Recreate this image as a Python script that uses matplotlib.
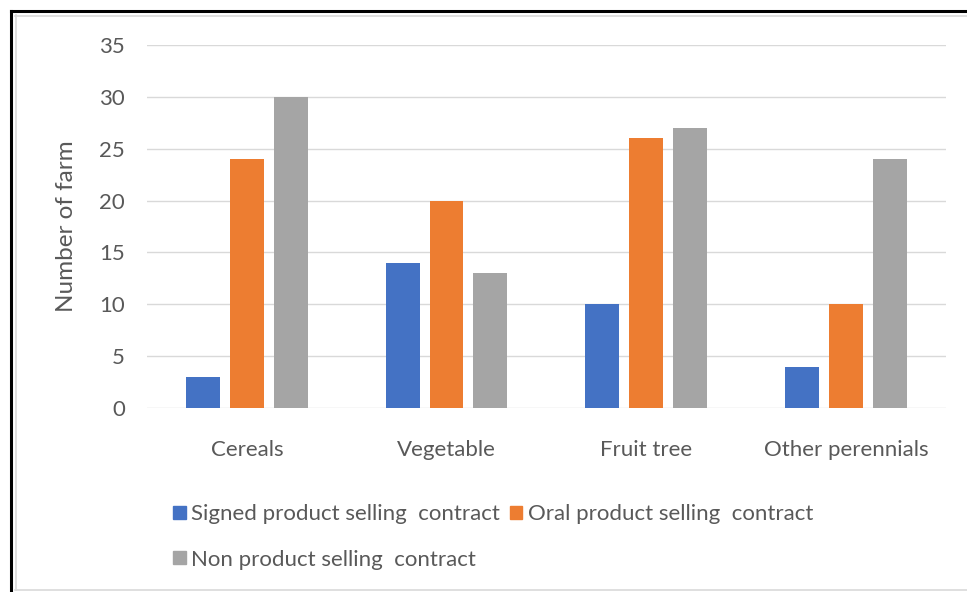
import matplotlib
matplotlib.use('Agg')
import matplotlib.pyplot as plt
from matplotlib.lines import Line2D
from matplotlib.patches import Patch
import numpy as np

plt.rcParams['font.family'] = ['Lato', 'DejaVu Sans']

categories = ['Cereals', 'Vegetable', 'Fruit tree', 'Other perennials']
signed = [3, 14, 10, 4]
oral = [24, 20, 26, 10]
non = [30, 13, 27, 24]
series_names = ['Signed product selling  contract', 'Oral product selling  contract',
                'Non product selling  contract']
colors = ['#4472C4', '#ED7D31', '#A5A5A5']
text_color = '#595959'

fig = plt.figure(figsize=(9.67, 5.92), dpi=100)
ax = fig.add_axes([0.152, 0.3108, 0.826, 0.6132])

x = np.arange(len(categories))
w = 0.17
step = 0.22
for i, vals in enumerate([signed, oral, non]):
    ax.bar(x + (i - 1) * step, vals, width=w, color=colors[i], zorder=3)

ax.set_xlim(-0.5, len(categories) - 0.5)
ax.set_ylim(0, 35)
ax.set_yticks(range(0, 36, 5))
ax.set_xticks(x)
ax.set_xticklabels(categories)
ax.grid(axis='y', color='#d9d9d9', linewidth=1, zorder=0)
for s in ax.spines.values():
    s.set_visible(False)
ax.tick_params(axis='both', length=0, labelsize=16, labelcolor=text_color)
ax.tick_params(axis='y', pad=16)
ax.tick_params(axis='x', pad=23)
ax.set_ylabel('Number of farm', fontsize=17.5, color=text_color, labelpad=16)

handles = [Patch(color=colors[0]), Patch(color=colors[2]), Patch(color=colors[1])]
labels = [series_names[0], series_names[2], series_names[1]]
fig.legend(handles, labels, ncol=2, loc='upper left', bbox_to_anchor=(0.170, 0.163),
           frameon=False, fontsize=16, labelcolor=text_color,
           handlelength=0.55, handleheight=0.55, handletextpad=0.25,
           columnspacing=0.45, labelspacing=1.13, borderaxespad=0)

# outer frame
def fx(px):
    return px / 967
def fy(py):
    return 1 - py / 592

fig.add_artist(Line2D([fx(11), fx(967)], [fy(11), fy(11)], color='black', lw=2.2))
fig.add_artist(Line2D([fx(11), fx(11)], [fy(11), fy(592)], color='black', lw=2.2))
fig.add_artist(Line2D([fx(15), fx(967)], [fy(15.5), fy(15.5)], color='#d9d9d9', lw=1.2))
fig.add_artist(Line2D([fx(15.5), fx(15.5)], [fy(15), fy(590)], color='#d9d9d9', lw=1.2))
fig.add_artist(Line2D([fx(15), fx(967)], [fy(590), fy(590)], color='#d9d9d9', lw=1.2))

fig.savefig('out.png', dpi=100)
